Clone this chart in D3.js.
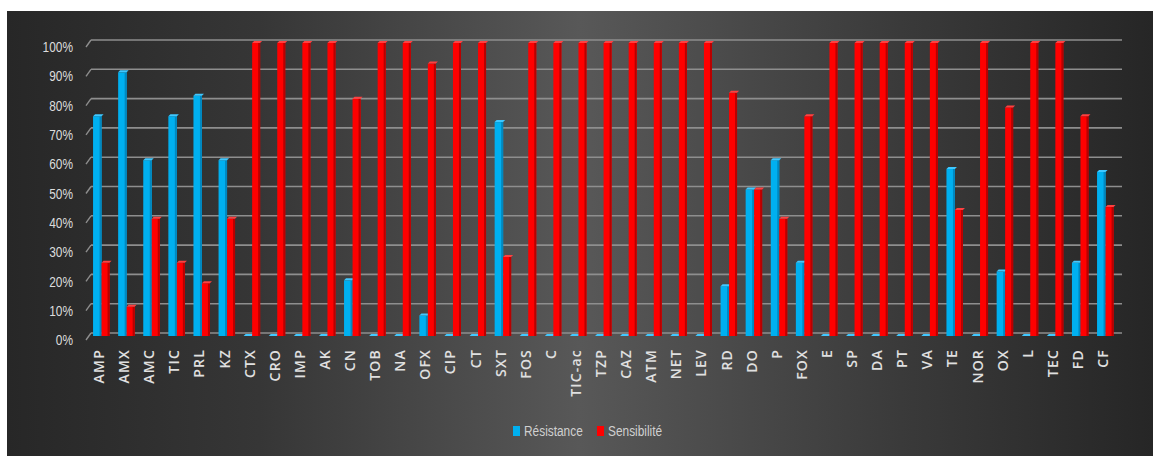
<!DOCTYPE html>
<html>
<head>
<meta charset="utf-8">
<script src="https://cdn.jsdelivr.net/npm/d3@7"></script>
<style>
  html, body { margin: 0; padding: 0; background: #ffffff; }
  svg { display: block; }
</style>
</head>
<body>
<svg id="chart" width="1153" height="456"></svg>
<script>
// Antibiotic categories
const categories = ["AMP","AMX","AMC","TIC","PRL","KZ","CTX","CRO","IMP","AK","CN","TOB","NA","OFX",
  "CIP","CT","SXT","FOS","C","TIC-ac","TZP","CAZ","ATM","NET","LEV","RD","DO","P","FOX","E","SP",
  "DA","PT","VA","TE","NOR","OX","L","TEC","FD","CF"];

// Percentages per antibiotic
const resistance = [75,90,60,75,82,60,0,0,0,0,19,0,0,7,0,0,73,0,0,0,0,0,0,0,0,17,50,60,25,0,0,
  0,0,0,57,0,22,0,0,25,56];
const sensibilite = [25,10,40,25,18,40,100,100,100,100,81,100,100,93,100,100,27,100,100,100,100,
  100,100,100,100,83,50,40,75,100,100,100,100,100,43,100,78,100,100,75,44];

const yTicks = [0,10,20,30,40,50,60,70,80,90,100];
const seriesNames = ["Résistance", "Sensibilité"];

const svg = d3.select("#chart");
const W = 1153, H = 456;
const narrowFont = "'Liberation Sans', Arial, sans-serif";
const narrowScale = 0.82;

// Dark panel with a lighter centre
const defs = svg.append("defs");
const grad = defs.append("linearGradient").attr("id", "bg")
  .attr("x1", "0%").attr("x2", "100%").attr("y1", "0%").attr("y2", "0%");
[[0, "#272727"], [0.22, "#363636"], [0.5, "#585858"], [0.78, "#3a3a3a"], [1, "#262626"]]
  .forEach(([o, c]) => grad.append("stop").attr("offset", o).attr("stop-color", c));
svg.append("rect").attr("x", 7).attr("y", 11).attr("width", W - 7).attr("height", H - 11)
  .attr("fill", "url(#bg)");

// Scales: back wall gridlines and bars (bars sit slightly in front)
const x = d3.scaleBand().domain(categories).range([86.5, 1115.6]).padding(0);
const yGrid = d3.scaleLinear().domain([0, 100]).range([333, 40]);
const yBar = v => yGrid(v) + 3;

// Gridlines with a short floor-perspective edge on the left
const grid = svg.append("g");
yTicks.forEach(t => {
  const gy = yGrid(t);
  grid.append("line").attr("x1", 91).attr("x2", 1122).attr("y1", gy).attr("y2", gy)
    .attr("stroke", "#8e8e8e").attr("stroke-width", 1.6);
  grid.append("line").attr("x1", 86).attr("x2", 91).attr("y1", gy + 7).attr("y2", gy)
    .attr("stroke", "#8e8e8e").attr("stroke-width", 1.4);
});

// Y axis labels (horizontally condensed)
const yAxis = d3.axisLeft(d3.scaleLinear().domain([0, 100]).range([yGrid(0) + 7, yGrid(100) + 7]))
  .tickValues(yTicks).tickFormat(d => d + "%").tickSize(0).tickPadding(0);
const ya = svg.append("g").attr("transform", `translate(73,0) scale(${narrowScale},1)`).call(yAxis);
ya.select(".domain").remove();
ya.selectAll("text")
  .attr("fill", "#dcdcdc")
  .style("font-family", narrowFont)
  .style("font-size", "14.5px");

// Bars with a simple 3D look (front, side and top faces)
const series = [
  { name: seriesNames[0], values: resistance, front: "#00b0f0", side: "#0088c0", top: "#40c8ff", dx: -6, w: 8.5 },
  { name: seriesNames[1], values: sensibilite, front: "#ff0000", side: "#b80000", top: "#ff4040", dx: 2.5, w: 8 }
];
const depth = 2;
series.forEach(s => {
  const g = svg.append("g");
  categories.forEach((c, i) => {
    const cx = x(c) + x.bandwidth() / 2;
    const x0 = cx + s.dx, x1 = x0 + s.w;
    const yt = yBar(s.values[i]), yb = yBar(0);
    g.append("rect").attr("x", x0).attr("y", yt).attr("width", s.w).attr("height", yb - yt)
      .attr("fill", s.front);
    g.append("rect").attr("x", x1 - 2).attr("y", yt).attr("width", 2).attr("height", yb - yt)
      .attr("fill", s.side);
    g.append("path")
      .attr("d", `M${x0},${yt} L${x1},${yt} L${x1 + depth},${yt - depth} L${x0 + depth},${yt - depth} Z`)
      .attr("fill", s.top);
  });
});

// Category labels, rotated
const xa = svg.append("g");
categories.forEach(c => {
  const cx = x(c) + x.bandwidth() / 2;
  xa.append("text")
    .attr("transform", `translate(${cx + 5},349) rotate(-90)`)
    .attr("text-anchor", "end")
    .attr("fill", "#e0e0e0")
    .style("font-family", "'Open Sans', sans-serif")
    .style("font-weight", 600)
    .style("font-size", "14px")
    .style("letter-spacing", "1.2px")
    .text(c);
});

// Legend (horizontally condensed text)
const legendPos = [513, 597];
series.forEach((s, i) => {
  svg.append("rect").attr("x", legendPos[i]).attr("y", 426).attr("width", 7).attr("height", 10)
    .attr("fill", s.front);
  svg.append("g").attr("transform", `translate(${legendPos[i] + 11},436) scale(${narrowScale},1)`)
    .append("text")
    .attr("fill", "#d0d0d0")
    .style("font-family", narrowFont)
    .style("font-size", "14.5px")
    .text(s.name);
});
</script>
</body>
</html>
